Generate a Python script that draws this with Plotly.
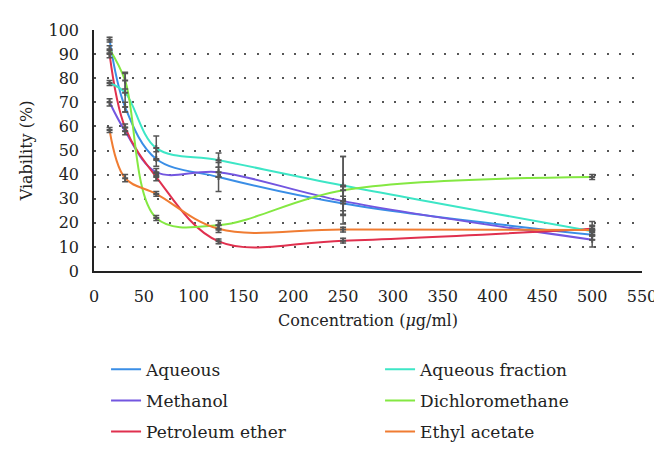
import plotly.graph_objects as go

concentration = [15.625, 31.25, 62.5, 125, 250, 500]

series_names = ["Aqueous", "Methanol", "Petroleum ether",
                "Aqueous fraction", "Dichloromethane", "Ethyl acetate"]

aqueous = [96, 68, 46.5, 39, 28, 15]
aqueous_err = [1, 2, 3, 6, 3, 2]
methanol = [70, 58, 41, 41, 29, 13]
methanol_err = [1.5, 1.5, 1.5, 2, 6, 3]
petroleum = [90, 59.5, 39, 12.3, 12.6, 17.5]
petroleum_err = [1.5, 1.5, 1.5, 1, 1, 3]
aq_fraction = [78, 74, 51, 46, 35.5, 16.5]
aq_fraction_err = [1, 8, 5, 3, 12, 2]
dcm = [92, 79, 22, 19, 33.5, 39]
dcm_err = [1.5, 3.5, 1, 2, 14, 1]
ethyl = [58.5, 38.5, 32, 17.5, 17.2, 17]
ethyl_err = [1, 1.5, 1, 1.5, 1, 2]

values = [aqueous, methanol, petroleum, aq_fraction, dcm, ethyl]
errors = [aqueous_err, methanol_err, petroleum_err, aq_fraction_err, dcm_err, ethyl_err]
colors = ["#3a8ee6", "#7356e0", "#e0304e", "#3de6c6", "#84e842", "#f07c32"]
legends = ["legend", "legend", "legend", "legend2", "legend2", "legend2"]

x_ticks = list(range(0, 551, 50))
y_ticks = list(range(0, 101, 10))

fig = go.Figure()
for name, y, c, lg in zip(series_names, values, colors, legends):
    fig.add_trace(go.Scatter(
        x=concentration, y=y, name=name, mode="lines",
        line=dict(color=c, width=2, shape="spline", smoothing=1),
        legend=lg, legendgroup=name,
    ))
for name, y, e in zip(series_names, values, errors):
    fig.add_trace(go.Scatter(
        x=concentration, y=y, name=name, mode="markers", showlegend=False,
        marker=dict(symbol="cross", size=5, color="#555555"),
        error_y=dict(type="data", array=e, visible=True, color="#555555",
                     thickness=1.5, width=3),
    ))

font_family = "DejaVu Serif"
fig.update_layout(
    width=662, height=454,
    margin=dict(l=86, r=28, t=22, b=174),
    paper_bgcolor="white", plot_bgcolor="white",
    font=dict(family=font_family, size=16, color="#222222"),
    showlegend=True,
    legend=dict(x=0.022, y=-0.335, xanchor="left", yanchor="top",
                font=dict(size=17, family=font_family, color="#222222"),
                tracegroupgap=6, bgcolor="rgba(0,0,0,0)"),
    legend2=dict(x=0.522, y=-0.335, xanchor="left", yanchor="top",
                 font=dict(size=17, family=font_family, color="#222222"),
                 tracegroupgap=6, bgcolor="rgba(0,0,0,0)"),
)
fig.update_xaxes(
    range=[0, 550], tickvals=x_ticks, ticks="", showgrid=False, automargin=False,
    showline=True, linecolor="#222222", linewidth=1.5, zeroline=False,
    tickfont=dict(size=16, family=font_family), ticklabelstandoff=10,
    title=dict(text="Concentration (<i>μ</i>g/ml)", font=dict(size=16, family=font_family), standoff=10),
)
fig.update_yaxes(
    range=[0, 100], tickvals=y_ticks, ticks="", showgrid=True, automargin=False,
    gridcolor="#555555", gridwidth=1.5, griddash="2px,10.5px",
    showline=True, linecolor="#222222", linewidth=1.5, zeroline=False,
    tickfont=dict(size=16, family=font_family), ticklabelstandoff=10,
    title=dict(text="Viability (%)", font=dict(size=16, family=font_family), standoff=12),
)

fig.write_html("out.html")
